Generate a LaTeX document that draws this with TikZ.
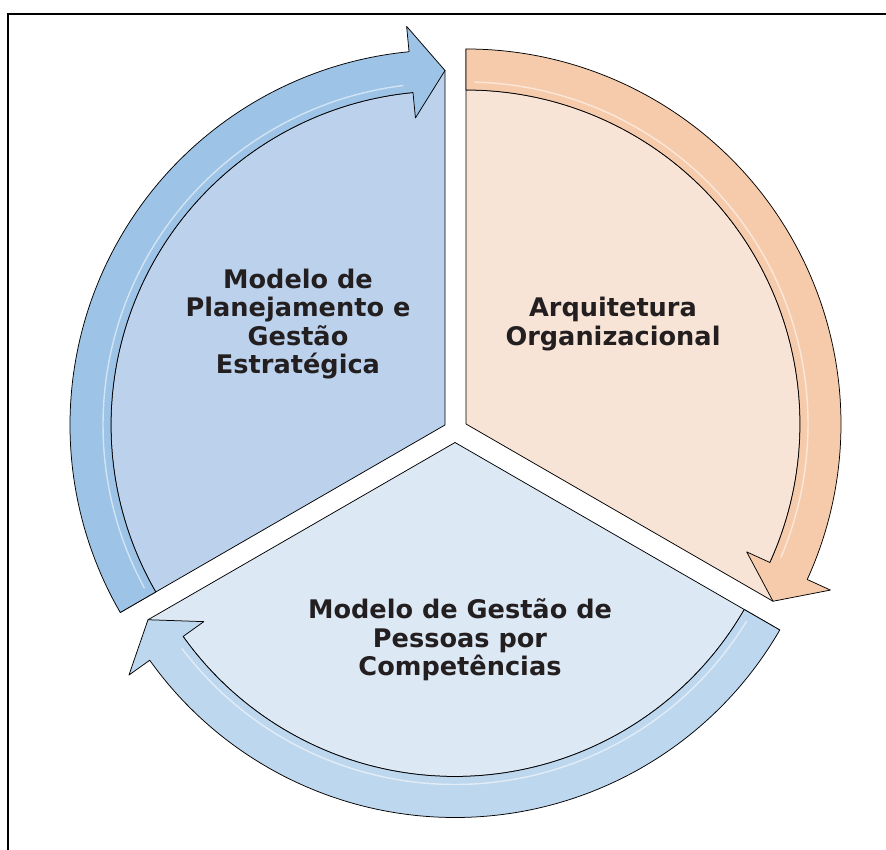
\documentclass[tikz,border=0pt]{standalone}
\usepackage{fontspec}
\setmainfont{DejaVu Sans}
\definecolor{bluefill}{RGB}{188,210,236}
\definecolor{blueband}{RGB}{157,195,230}
\definecolor{orfill}{RGB}{248,228,214}
\definecolor{orband}{RGB}{246,203,172}
\definecolor{lbfill}{RGB}{221,232,245}
\definecolor{lbband}{RGB}{189,215,238}
\definecolor{txt}{RGB}{35,31,32}
\tikzset{
  outl/.style={draw=black, line width=0.75pt, line join=round},
  gloss/.style={draw=white, opacity=0.55, line width=1.4pt},
  lbl/.style={align=center, text=txt, inner sep=0pt,
    font=\fontsize{25.6}{28.3}\selectfont\bfseries}
}
% #1 center, #2 tail angle, #3 tip angle, #4 sector colour, #5 band colour
\newcommand{\cyclepart}[5]{%
  \pgfmathsetmacro{\ah}{#3+5.5}%
  \pgfmathsetmacro{\gs}{#2-1.5}%
  \pgfmathsetmacro{\ge}{\ah+1.5}%
  \begin{scope}[shift={(#1)}]
    \path[outl, fill=#4] (0,0) -- (#3:354.5pt) -- (\ah:334pt)
      arc[start angle=\ah, end angle=#2, radius=334pt] -- (#2:375pt) -- cycle;
    \path[outl, fill=#5] (#2:375pt) arc[start angle=#2, end angle=\ah, radius=375pt]
      -- (\ah:400.5pt) -- (#3:354.5pt) -- (\ah:308.5pt) -- (\ah:334pt)
      arc[start angle=\ah, end angle=#2, radius=334pt] -- cycle;
    \draw[gloss] (\gs:342pt) arc[start angle=\gs, end angle=\ge, radius=342pt];
  \end{scope}%
}
\begin{document}
\begin{tikzpicture}[x=1pt,y=1pt]
\useasboundingbox (0,0) rectangle (886,850);
\fill[white] (0,0) rectangle (886,850);
\draw[line width=2pt] (8,0) -- (8,836) -- (886,836);
\cyclepart{445,425}{210}{90}{bluefill}{blueband}
\cyclepart{466,426}{90}{-30}{orfill}{orband}
\cyclepart{455,407.5}{-30}{-150}{lbfill}{lbband}
\node[lbl] (plan) at (298,526) {Modelo de\\Planejamento e\\Gestão\\Estratégica};
\node[lbl] (arq) at (613,526) {Arquitetura\\Organizacional};
\node[lbl] (pess) at (460,210) {Modelo de Gestão de\\Pessoas por\\Competências};
\end{tikzpicture}
\end{document}
